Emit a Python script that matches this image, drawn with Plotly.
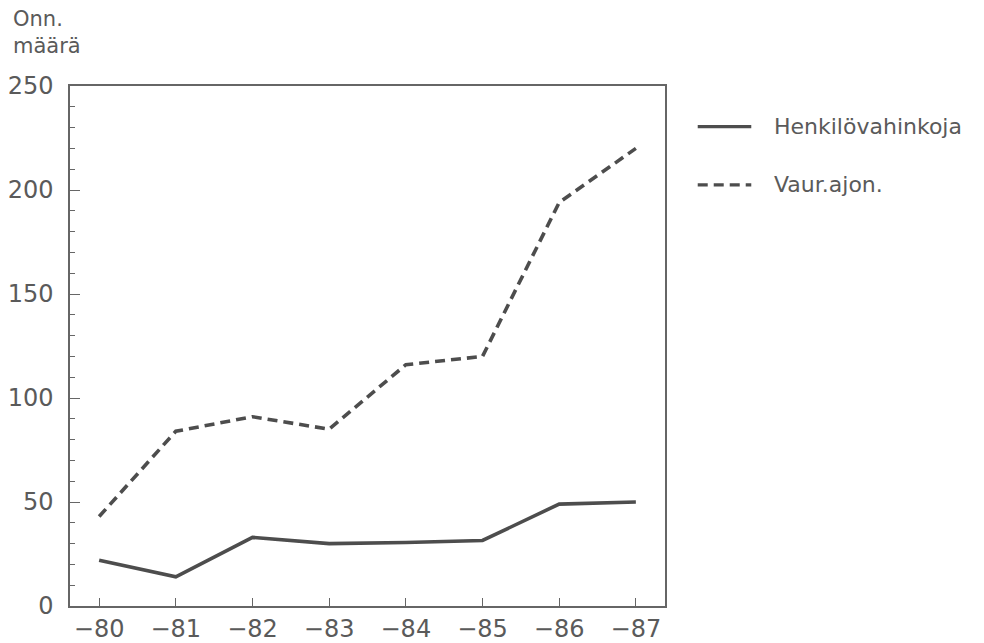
import plotly.graph_objects as go

# Accident counts per year, 1980-1987
years = [1980, 1981, 1982, 1983, 1984, 1985, 1986, 1987]
year_labels = ["\u221280", "\u221281", "\u221282", "\u221283", "\u221284", "\u221285", "\u221286", "\u221287"]
henkilovahinkoja = [22, 14, 33, 30, 30.5, 31.5, 49, 50]
vaur_ajon = [43, 84, 91, 85, 116, 120, 194, 220]

series_names = ["Henkil\u00f6vahinkoja", "Vaur.ajon."]
y_ticks = [0, 50, 100, 150, 200, 250]

INK = "#4d4d4d"
TEXT = "#5a5a5a"
FONT = "DejaVu Sans"

fig = go.Figure()
fig.add_trace(go.Scatter(x=years, y=henkilovahinkoja, mode="lines",
                         line=dict(color=INK, width=3.6),
                         name=series_names[0], showlegend=False))
fig.add_trace(go.Scatter(x=years, y=vaur_ajon, mode="lines",
                         line=dict(color=INK, width=3.6, dash="10px,6px"),
                         name=series_names[1], showlegend=False))

# Hand-drawn legend to the right of the plot area
legend_rows = [(series_names[0], "solid", 0.922), (series_names[1], "10px,6px", 0.81)]
for name, dash, yy in legend_rows:
    fig.add_shape(type="line", xref="paper", yref="paper",
                  x0=1.055, x1=1.145, y0=yy, y1=yy,
                  line=dict(color=INK, width=3.2, dash=dash))
    fig.add_annotation(text=name, xref="paper", yref="paper",
                       x=1.18, y=yy, xanchor="left", yanchor="middle",
                       showarrow=False, font=dict(family=FONT, size=22, color=TEXT))

# Axis title in the top-left corner
fig.add_annotation(text="Onn.<br>m\u00e4\u00e4r\u00e4", xref="paper", yref="paper",
                   x=-0.1, y=1.155, xanchor="left", yanchor="top", align="left",
                   showarrow=False, font=dict(family=FONT, size=21, color=TEXT))

fig.update_layout(
    width=984, height=643,
    template="none",
    paper_bgcolor="white", plot_bgcolor="white",
    margin=dict(l=70, r=319, t=86, b=37),
    font=dict(family=FONT, size=24, color=TEXT),
    showlegend=False,
)
fig.update_xaxes(
    range=[1979.62, 1987.38], tickmode="array", tickvals=years, ticktext=year_labels,
    ticks="inside", ticklen=8, tickwidth=1.3, tickcolor="#666",
    showline=True, linecolor="#666", linewidth=1.5, mirror=True,
    showgrid=False, zeroline=False, automargin=False,
)
fig.update_yaxes(
    range=[0, 250], tickmode="array", tickvals=y_ticks,
    ticks="inside", ticklen=10, tickwidth=1.3, tickcolor="#666",
    minor=dict(dtick=10, ticks="inside", ticklen=5, tickwidth=1.2, tickcolor="#666", showgrid=False),
    ticklabelstandoff=10,
    showline=True, linecolor="#666", linewidth=1.5, mirror=True,
    showgrid=False, zeroline=False, automargin=False,
)

fig.write_html("out.html")
